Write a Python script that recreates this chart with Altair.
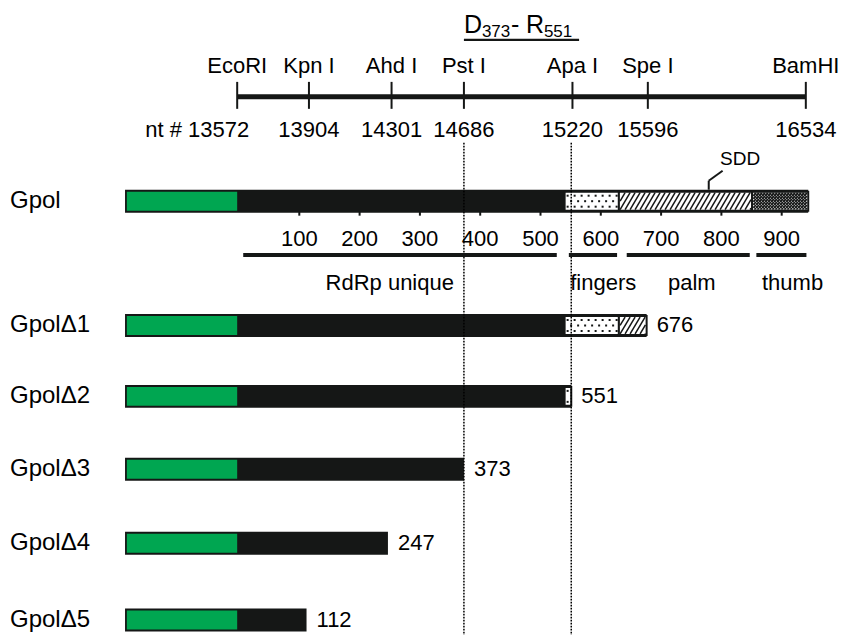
import altair as alt
import pandas as pd

# ---------------- data ----------------
constructs = ["Gpol", "GpolΔ1", "GpolΔ2", "GpolΔ3", "GpolΔ4", "GpolΔ5"]
construct_end_aa = [944, 676, 551, 373, 247, 112]
end_labels = ["", "676", "551", "373", "247", "112"]
bar_start_aa = -189          # left edge of each construct (incl. tag)
tag_start_aa = -186          # green N-terminal tag
tag_end_aa = -3

site_names = ["EcoRI", "Kpn I", "Ahd I", "Pst I", "Apa I", "Spe I", "BamHI"]
site_nt = ["nt # 13572", "13904", "14301", "14686", "15220", "15596", "16534"]
site_pos_aa = [-3, 116, 253, 373, 553, 678, 940]   # where each site is drawn along the protein

aa_ticks = [100, 200, 300, 400, 500, 600, 700, 800, 900]

domain_names = ["RdRp unique", "fingers", "palm", "thumb"]
domain_line_start = [7, 547, 643, 858]
domain_line_end = [527, 627, 847, 941]
domain_label_pos = [250, 604, 751, 918]

motif_names = ["fingers", "palm", "thumb"]
motif_start = [540, 630, 851]
motif_end = [630, 851, 944]

boundary_aa = [373, 551]          # D373 / R551
title_span_aa = [373, 564]        # underline under the D373-R551 title
sdd_aa = 779
sdd_label_aa = 831

# ---------------- layout / style ----------------
PX_PER_AA = 0.603
AA0_PAGE_X = 239
W, H, M = 841, 628, 8
x_dom = [(M - AA0_PAGE_X) / PX_PER_AA, (M + W - AA0_PAGE_X) / PX_PER_AA]
y_dom = [M, M + H]     # page coordinates, top to bottom
row_y = {"Gpol": 201.5, "GpolΔ1": 326, "GpolΔ2": 397, "GpolΔ3": 470,
         "GpolΔ4": 544, "GpolΔ5": 621}
BAR_HALF = 11.5
INNER_HALF = 9.5
FONT = "Liberation Sans"
FS = 22
BLACK = "#151716"
GREEN = "#00a651"

xs = alt.Scale(domain=x_dom, nice=False, zero=False)
ys = alt.Scale(domain=y_dom, reverse=True, nice=False, zero=False)


def X(f):
    return alt.X(f, type="quantitative", scale=xs, axis=None)


def Y(f):
    return alt.Y(f, type="quantitative", scale=ys, axis=None)


def X2(f):
    return alt.X2(f)


def Y2(f):
    return alt.Y2(f)


layers = []

# construct bars
bars = pd.DataFrame({
    "name": constructs,
    "x": [bar_start_aa] * len(constructs),
    "x2": construct_end_aa,
    "y": [row_y[c] - BAR_HALF for c in constructs],
    "y2": [row_y[c] + BAR_HALF for c in constructs],
})
layers.append(alt.Chart(bars).mark_rect(color=BLACK).encode(
    x=X("x"), x2=X2("x2"), y=Y("y"), y2=Y2("y2")))

tags = pd.DataFrame({
    "x": [tag_start_aa] * len(constructs),
    "x2": [tag_end_aa] * len(constructs),
    "y": [row_y[c] - INNER_HALF for c in constructs],
    "y2": [row_y[c] + INNER_HALF for c in constructs],
})
layers.append(alt.Chart(tags).mark_rect(color=GREEN).encode(
    x=X("x"), x2=X2("x2"), y=Y("y"), y2=Y2("y2")))

# patterned motif regions
seg_rows = []
for c, end in zip(constructs, construct_end_aa):
    for m, a, b in zip(motif_names, motif_start, motif_end):
        if end > a:
            seg_rows.append({"c": c, "motif": m, "x": a, "x2": min(b, end),
                             "y": row_y[c] - INNER_HALF, "y2": row_y[c] + INNER_HALF})
segs = pd.DataFrame(seg_rows)
layers.append(alt.Chart(segs).mark_rect(fill="white", stroke=BLACK, strokeWidth=2).encode(
    x=X("x"), x2=X2("x2"), y=Y("y"), y2=Y2("y2")))


def hatch(a, b, ytop, ybot, spacing_px, slant_px, direction):
    """Texture lines for a hatched fill, clipped to [a, b]."""
    sp = spacing_px / PX_PER_AA
    dx = slant_px / PX_PER_AA
    out = []
    a_in = a + 1.2 / PX_PER_AA
    b_in = b - 1.2 / PX_PER_AA
    x0 = a_in - dx
    while x0 < b_in:
        if direction > 0:
            xb, xt = x0, x0 + dx
        else:
            xb, xt = x0 + dx, x0
        ta = (a_in - xb) / (xt - xb)
        tb = (b_in - xb) / (xt - xb)
        t0 = max(0.0, min(ta, tb))
        t1 = min(1.0, max(ta, tb))
        if t1 > t0:
            out.append({"x": xb + t0 * (xt - xb), "y": ybot + t0 * (ytop - ybot),
                        "x2": xb + t1 * (xt - xb), "y2": ybot + t1 * (ytop - ybot)})
        x0 += sp
    return out


palm_lines, thumb_lines, dots = [], [], []
for r in seg_rows:
    yt, yb = r["y"] + 1, r["y2"] - 1
    if r["motif"] == "palm":
        palm_lines += hatch(r["x"], r["x2"], yt, yb, 5.0, 10.0, 1)
    elif r["motif"] == "thumb":
        thumb_lines += hatch(r["x"], r["x2"], yt, yb, 3.0, 17.0, 1)
        thumb_lines += hatch(r["x"], r["x2"], yt, yb, 3.0, 17.0, -1)
    else:
        step = 7.0 / PX_PER_AA
        for k, off in enumerate([-5.5, 0, 5.5]):
            xx = r["x"] + (3.0 + (k % 2) * 3.5) / PX_PER_AA
            while xx < r["x2"] - 1.5 / PX_PER_AA:
                dots.append({"x": xx, "y": row_y[r["c"]] + off})
                xx += step

layers.append(alt.Chart(pd.DataFrame(palm_lines)).mark_rule(color=BLACK, strokeWidth=1.5).encode(
    x=X("x"), x2=X2("x2"), y=Y("y"), y2=Y2("y2")))
layers.append(alt.Chart(pd.DataFrame(thumb_lines)).mark_rule(color=BLACK, strokeWidth=1.2).encode(
    x=X("x"), x2=X2("x2"), y=Y("y"), y2=Y2("y2")))
layers.append(alt.Chart(pd.DataFrame(dots)).mark_point(
    shape="square", filled=True, size=4, color=BLACK, opacity=1).encode(x=X("x"), y=Y("y")))

# row labels and end labels
lab = pd.DataFrame({"name": constructs, "y": [row_y[c] for c in constructs]})
layers.append(alt.Chart(lab).mark_text(align="left", baseline="middle", font=FONT,
                                        fontSize=24, color="black").encode(
    x=alt.value(2), y=Y("y"), text="name:N"))
ends = pd.DataFrame({"x": construct_end_aa, "t": end_labels,
                     "y": [row_y[c] for c in constructs]})
layers.append(alt.Chart(ends).mark_text(align="left", baseline="middle", dx=10, font=FONT,
                                         fontSize=FS, color="black").encode(
    x=X("x"), y=Y("y"), text="t:N"))

# restriction map
MAP_Y, TICK_TOP, TICK_BOT = 97, 82, 109
mapline = pd.DataFrame({"x": [site_pos_aa[0]], "x2": [site_pos_aa[-1]], "y": [MAP_Y]})
layers.append(alt.Chart(mapline).mark_rule(color=BLACK, strokeWidth=5).encode(
    x=X("x"), x2=X2("x2"), y=Y("y")))
sites = pd.DataFrame({"x": site_pos_aa, "name": site_names, "nt": site_nt,
                      "y": [TICK_TOP] * 7, "y2": [TICK_BOT] * 7,
                      "ly": [66] * 7, "ny": [130] * 7})
layers.append(alt.Chart(sites).mark_rule(color=BLACK, strokeWidth=2).encode(
    x=X("x"), y=Y("y"), y2=Y2("y2")))
layers.append(alt.Chart(sites).mark_text(baseline="middle", font=FONT, fontSize=FS,
                                          color="black").encode(
    x=X("x"), y=Y("ly"), text="name:N"))
layers.append(alt.Chart(sites.iloc[1:]).mark_text(baseline="middle", font=FONT, fontSize=FS,
                                                   color="black").encode(
    x=X("x"), y=Y("ny"), text="nt:N"))
layers.append(alt.Chart(sites.iloc[:1]).mark_text(align="right", dx=12, baseline="middle",
                                                   font=FONT, fontSize=FS, color="black").encode(
    x=X("x"), y=Y("ny"), text="nt:N"))

# D373 - R551 title with subscripts
title_pieces = [("D", 0, 25, 33), ("373", 18, 17, 37), ("-", 47, 25, 33),
                ("R", 62, 25, 33), ("551", 80, 17, 37)]
for txt, dxp, fs, by in title_pieces:
    layers.append(alt.Chart(pd.DataFrame({"x": [boundary_aa[0]], "y": [by], "t": [txt]}))
                  .mark_text(align="left", baseline="alphabetic", dx=dxp, font=FONT,
                             fontSize=fs, color="black")
                  .encode(x=X("x"), y=Y("y"), text="t:N"))
uline = pd.DataFrame({"x": [title_span_aa[0]], "x2": [title_span_aa[1]], "y": [40]})
layers.append(alt.Chart(uline).mark_rule(color=BLACK, strokeWidth=2.2).encode(
    x=X("x"), x2=X2("x2"), y=Y("y")))

# dotted guide lines
guides = pd.DataFrame({"x": boundary_aa, "y": [143, 143], "y2": [M + H, M + H]})
layers.append(alt.Chart(guides).mark_rule(color="black", strokeWidth=1.5, strokeDash=[1.6, 1.4]).encode(
    x=X("x"), y=Y("y"), y2=Y2("y2")))

# amino-acid ruler
g = row_y["Gpol"]
ticks = pd.DataFrame({"x": aa_ticks, "t": [str(v) for v in aa_ticks],
                      "y": [g + BAR_HALF - 1] * 9, "y2": [g + BAR_HALF + 3] * 9,
                      "ly": [239] * 9})
layers.append(alt.Chart(ticks).mark_rule(color=BLACK, strokeWidth=2).encode(
    x=X("x"), y=Y("y"), y2=Y2("y2")))
layers.append(alt.Chart(ticks).mark_text(baseline="middle", font=FONT, fontSize=FS,
                                          color="black").encode(
    x=X("x"), y=Y("ly"), text="t:N"))

# domain lines and names
doms = pd.DataFrame({"name": domain_names, "x": domain_line_start, "x2": domain_line_end,
                     "lx": domain_label_pos, "y": [255.5] * 4, "ly": [283] * 4})
layers.append(alt.Chart(doms).mark_rule(color=BLACK, strokeWidth=4).encode(
    x=X("x"), x2=X2("x2"), y=Y("y")))
layers.append(alt.Chart(doms).mark_text(baseline="middle", font=FONT, fontSize=FS,
                                         color="black").encode(
    x=X("lx"), y=Y("ly"), text="name:N"))

# SDD motif label with leader
sdd = pd.DataFrame({"x": [sdd_aa + 23, sdd_aa], "y": [171, 181],
                    "x2": [sdd_aa, sdd_aa], "y2": [181, g - BAR_HALF]})
layers.append(alt.Chart(sdd).mark_rule(color=BLACK, strokeWidth=2).encode(
    x=X("x"), x2=X2("x2"), y=Y("y"), y2=Y2("y2")))
layers.append(alt.Chart(pd.DataFrame({"x": [sdd_label_aa], "y": [159.5], "t": ["SDD"]}))
              .mark_text(baseline="middle", font=FONT, fontSize=19, color="black")
              .encode(x=X("x"), y=Y("y"), text="t:N"))

chart = alt.layer(*layers).properties(
    width=W, height=H,
    autosize=alt.AutoSizeParams(type="fit", contains="padding"),
    padding=0,
).configure_view(stroke=None)

chart.save("out.html", embed_options={"renderer": "svg", "actions": False})
